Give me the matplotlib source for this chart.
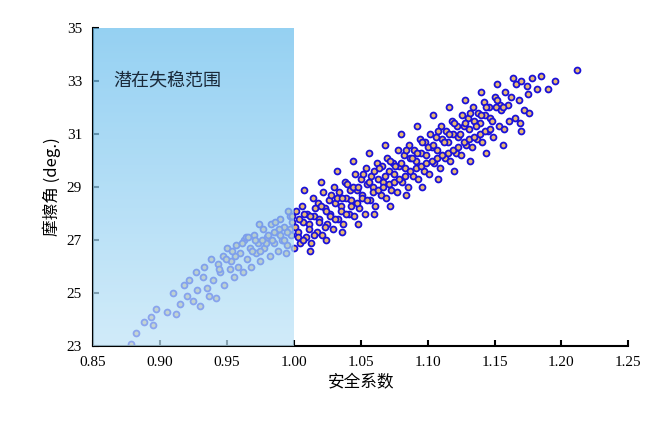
import matplotlib
matplotlib.use("Agg")
import matplotlib.pyplot as plt
import numpy as np
from matplotlib.colors import LinearSegmentedColormap

xl = [0.878,0.882,0.888,0.893,0.895,0.897,0.905,0.910,0.912,0.915,0.918,0.920,0.922,0.925,0.927,0.928,0.930,0.932,0.933,0.935,0.937,0.938,0.940,0.942,0.943,0.945,0.947,0.948,0.950,0.952,0.953,0.955,0.957,0.958,0.960,0.962,0.963,0.965,0.967,0.968,0.970,0.972,0.973,0.975,0.977,0.978,0.980,0.982,0.983,0.985,0.987,0.988,0.990,0.992,0.993,0.995,0.997,0.998,
      0.964,0.969,0.974,0.979,0.984,0.989,0.994,0.999,0.971,0.981,0.991,0.996,
      0.956,0.961,0.966,0.976,0.986,0.990,0.993,0.997,0.975,0.985,0.995,0.999,0.944,0.949,0.954]
yl = [23.1,23.5,23.9,24.1,23.8,24.4,24.3,25.0,24.2,24.6,25.3,24.9,25.5,24.7,25.8,25.1,24.5,25.6,26.0,25.2,24.9,26.3,25.5,24.8,26.1,25.8,26.4,25.3,26.7,25.9,26.2,25.6,26.8,26.0,26.5,25.8,27.0,26.3,26.7,26.0,27.2,26.5,26.9,26.2,27.4,26.7,27.1,26.4,27.6,26.9,27.3,26.6,27.8,27.0,27.5,26.8,27.9,27.2,
      27.1,26.6,27.6,26.9,27.0,27.4,26.5,27.7,27.0,27.2,27.0,28.1,
      26.4,26.9,27.1,27.0,27.7,27.2,27.0,27.4,26.6,27.3,27.3,27.9,25.9,26.3,26.6]

xa = [1.002,1.006,1.010,1.014,1.018,1.022,1.026,1.030,1.034,1.038,1.042,1.046,1.050,1.054,1.058,1.062,1.066,1.070,1.074,1.078,1.082,1.086,1.090,1.094,1.098,1.102,1.106,1.110,1.114,1.118,1.122,1.126,1.130,1.134,1.138,1.142,1.146,1.150,1.154,1.158,1.162,1.166,1.170,1.174,1.178,1.185]
ya = [28.1,28.3,28.0,28.6,28.4,28.8,28.5,29.0,28.8,29.2,28.9,29.5,29.3,29.7,29.4,29.9,29.8,30.1,29.9,30.4,30.2,30.6,30.4,30.8,30.7,31.0,30.9,31.3,31.1,31.5,31.3,31.7,31.6,32.0,31.8,32.2,32.0,32.4,32.1,32.6,32.4,32.9,33.0,32.8,33.1,33.2]
xb = [1.000,1.005,1.009,1.013,1.017,1.021,1.025,1.029,1.033,1.037,1.041,1.045,1.049,1.053,1.057,1.061,1.065,1.069,1.073,1.077,1.081,1.085,1.089,1.093,1.097,1.101,1.105,1.109,1.113,1.117,1.121,1.125,1.129,1.133,1.137,1.141,1.145,1.149,1.153,1.157,1.161,1.165,1.169,1.172,1.176,1.190]
yb = [26.7,26.9,27.1,26.9,27.3,27.2,27.6,27.4,27.8,27.6,28.0,27.9,28.2,28.0,28.5,28.3,28.7,28.6,28.9,28.8,29.2,29.0,29.4,29.3,29.6,29.5,29.9,29.7,30.1,30.0,30.3,30.2,30.6,30.5,30.8,30.7,31.1,30.9,31.3,31.2,31.5,31.6,31.4,31.9,31.8,32.7]
xc = [1.001,1.003,1.007,1.011,1.015,1.019,1.023,1.027,1.031,1.035,1.039,1.043,1.047,1.051,1.055,1.059,1.063,1.067,1.071,1.075,1.079,1.083,1.087,1.091,1.095,1.099,1.103,1.107,1.111,1.115,1.119,1.123,1.127,1.131,1.135,1.139,1.143,1.147,1.151,1.155,1.160,1.168,1.175,1.182,1.195,1.212]
yc = [27.5,27.3,27.7,27.6,27.9,27.8,28.2,28.0,28.4,28.3,28.6,28.5,28.9,28.7,29.1,29.0,29.3,29.2,29.6,29.5,29.8,29.7,30.1,30.0,30.3,30.2,30.5,30.4,30.8,30.7,31.0,30.9,31.3,31.2,31.5,31.4,31.7,31.6,32.0,31.9,32.1,32.3,32.5,32.7,33.0,33.4]
xd = [1.008,1.020,1.032,1.044,1.056,1.068,1.080,1.092,1.104,1.116,1.128,1.140,1.152,1.164]
yd = [28.9,29.2,29.6,30.0,30.3,30.6,31.0,31.3,31.7,32.0,32.3,32.6,32.9,33.1]
xe = [1.012,1.024,1.036,1.048,1.060,1.072,1.084,1.096,1.108,1.120,1.132,1.144,1.156,1.170]
ye = [26.6,27.0,27.3,27.6,28.0,28.3,28.7,29.0,29.3,29.6,30.0,30.3,30.6,31.1]
xf = [1.004,1.008,1.012,1.016,1.020,1.024,1.028,1.032,1.036,1.040,1.044,1.048,1.052,1.056,1.060,1.064,1.068,1.072,1.076,1.080,1.084,1.088,1.092,1.096,1.100,1.104,1.108,1.112,1.116,1.120,1.124,1.128,1.132,1.136,1.140,1.144,1.148,1.152,1.156]
yf = [27.8,28.0,27.9,28.2,28.3,28.1,28.7,28.6,28.6,29.1,29.0,29.0,29.5,29.2,29.6,29.7,29.4,30.0,29.8,29.9,30.4,30.1,30.3,30.7,30.5,30.6,31.1,30.7,31.0,31.4,31.0,31.4,31.8,31.3,31.7,32.0,31.5,32.3,32.0]
xg = [1.003,1.007,1.011,1.015,1.019,1.023,1.027,1.031,1.035,1.039,1.043,1.047,1.051,1.055,1.059,1.063,1.067,1.071,1.075,1.079,1.083,1.087,1.091,1.095,1.099,1.103,1.107,1.111,1.115,1.119,1.123,1.127,1.131,1.135,1.139,1.143,1.147]
yg = [27.1,27.0,27.4,27.2,27.7,27.5,27.9,27.8,28.1,28.0,28.3,28.4,28.6,28.5,28.8,28.9,29.0,29.1,29.2,29.3,29.4,29.6,29.7,29.8,29.9,30.0,30.1,30.2,30.3,30.4,30.5,30.7,30.8,30.9,31.0,31.1,31.2]

xs = xl + xa + xb + xc + xd + xe + xf + xg
ys = yl + ya + yb + yc + yd + ye + yf + yg

xticks = [0.85,0.90,0.95,1.00,1.05,1.10,1.15,1.20,1.25]
yticks = [23,25,27,29,31,33,35]

serif = ["Liberation Serif", "DejaVu Serif"]
cjk = ["Noto Sans CJK SC", "DejaVu Sans"]

fig = plt.figure(figsize=(6.6,4.36), dpi=100)
ax = fig.add_axes([0.141,0.206,0.811,0.730])
ax.scatter(xs, ys, s=18, facecolor="#e8b870", edgecolor="#1a10d8", linewidths=1.3, zorder=2)
grad = np.linspace(0,1,256).reshape(-1,1)
cm = LinearSegmentedColormap.from_list("g", ["#6cbfee", "#bfe4f8"])
ax.imshow(grad, cmap=cm, extent=[0.85,1.0,23,35], aspect="auto", origin="upper", alpha=0.72, zorder=3)
ax.text(0.865, 33.0, "潜在失稳范围", family=cjk, fontsize=13, color="#1a2a3a", va="center", zorder=4)
ax.set_xlim(0.85,1.25); ax.set_ylim(23,35)
ax.set_xticks(xticks); ax.set_yticks(yticks)
ax.set_xticklabels([f"{v:.2f}" for v in xticks], family=serif, fontsize=11)
ax.set_yticklabels([str(v) for v in yticks], family=serif, fontsize=11)
ax.tick_params(direction="in", length=4, width=1.5)
ax.tick_params(axis="x", pad=7)
ax.tick_params(axis="y", pad=8)
ax.spines["top"].set_visible(False); ax.spines["right"].set_visible(False)
ax.spines["left"].set_linewidth(1.5); ax.spines["bottom"].set_linewidth(1.5)
ax.set_xlabel("安全系数", family=cjk, fontsize=12)
ax.set_ylabel("摩擦角 (deg.)", family=cjk, fontsize=12)
fig.savefig("out.png", dpi=100)
